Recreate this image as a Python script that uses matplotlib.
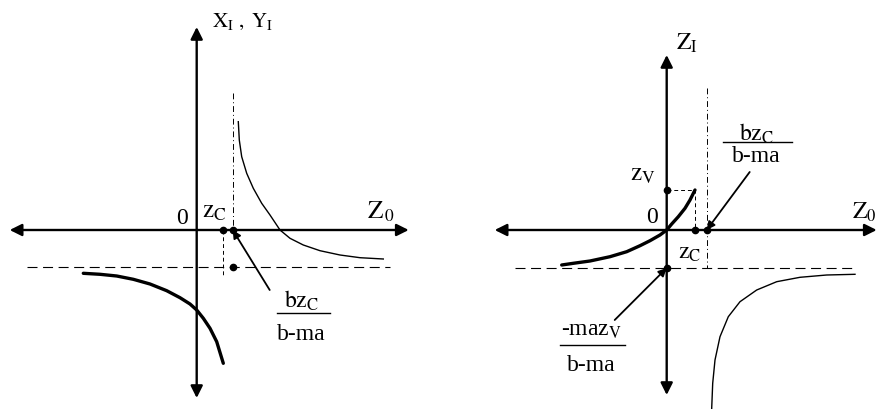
import matplotlib.pyplot as plt

plt.rcParams['font.family'] = ['Liberation Serif', 'DejaVu Serif']
plt.rcParams['mathtext.fontset'] = 'stix'

# ---- left panel: X_I, Y_I against Z_0 (origin at axis crossing) ----
L_zc = 26
L_pole = 36
L_asym = -37
L_upper_x = [41.6, 42.6, 45, 50, 56.6, 65, 73.3, 83.3, 93.3, 106.6, 123.3, 143.3, 163.3, 186.6]
L_upper_y = [108.3, 90, 73.3, 56.7, 41.7, 26.7, 15, 0, -8.3, -15, -20.7, -25, -27.7, -29]
L_lower_x = [-113.4, -96.7, -80, -63.4, -46.7, -30, -16.7, -6.7, 0, 6.6, 13.3, 20, 26.6]
L_lower_y = [-43.3, -44.3, -46, -49.3, -54, -60.7, -67.7, -74, -80, -88.3, -98.3, -111.7, -133.3]

# ---- right panel: Z_I against Z_0 ----
R_zc = 28
R_zv = 40
R_pole = 40
R_asym = -38
R_inner_x = [28.3, 23.3, 18.3, 11.6, 5, 0, -6.7, -16.7, -26.7, -40, -56.7, -76.7, -93.4, -105]
R_inner_y = [40, 30, 21.7, 13.3, 6, 0, -5, -10.7, -15.7, -21.7, -26.7, -31, -33.3, -35]
R_outer_x = [45, 46, 48.3, 53.3, 61.6, 73.3, 90, 110, 133.3, 160, 188.3]
R_outer_y = [-178.3, -153.3, -130, -106.7, -86.7, -71.7, -60, -51.7, -47.3, -45, -44.3]

fig = plt.figure(figsize=(8.78, 4.11), dpi=100)
axL = fig.add_axes([0, 0, 439 / 878, 1])
axR = fig.add_axes([439 / 878, 0, 439 / 878, 1])
axL.set_xlim(-196.7, 242.3)
axL.set_ylim(-181, 230)
axR.set_xlim(-227.7, 211.3)
axR.set_ylim(-181, 230)
for ax in (axL, axR):
    ax.axis('off')

axis_arrow = dict(arrowstyle='<|-|>', color='black', lw=1.7,
                  mutation_scale=18, shrinkA=0, shrinkB=0)
pointer = dict(arrowstyle='-|>', color='black', lw=1.3,
               mutation_scale=12, shrinkA=0, shrinkB=0)
fs = 17

# left panel
ax = axL
ax.annotate('', xy=(212, 0), xytext=(-187, 0), arrowprops=axis_arrow)
ax.annotate('', xy=(0, 203), xytext=(0, -168), arrowprops=axis_arrow)
ax.plot([-170, 193], [L_asym, L_asym], color='black', lw=0.8, ls=(0, (9, 5)))
ax.plot([L_pole, L_pole], [137, 0], color='black', lw=0.7, ls=(0, (6, 3, 1, 3)))
ax.plot([L_zc, L_zc], [0, -45], color='black', lw=0.7, ls=(0, (4, 3)))
ax.plot(L_upper_x, L_upper_y, color='black', lw=1.0)
ax.plot(L_lower_x, L_lower_y, color='black', lw=2.4, solid_capstyle='round')
ax.plot([L_zc, L_pole, L_pole], [0, 0, L_asym], 'o', color='black', ms=4.5)
ax.annotate('', xy=(L_pole, 0), xytext=(73, -60), arrowprops=pointer)
ax.text(46, 208, r'$\mathrm{X_I\ ,\ Y_I}$', fontsize=15, ha='center', va='center')
ax.text(-15, 12, '0', fontsize=fs, ha='center', va='center')
ax.text(18, 18, r'$\mathrm{z_C}$', fontsize=fs + 1, ha='center', va='center')
ax.text(184, 18, r'$\mathrm{Z}_{\,0}$', fontsize=fs + 1, ha='center', va='center')
ax.text(105, -71, r'$\mathrm{bz_C}$', fontsize=fs, ha='center', va='center')
ax.plot([80, 133], [-83, -83], color='black', lw=1.0)
ax.text(105, -104, 'b-ma', fontsize=fs, ha='center', va='center')

# right panel
ax = axR
ax.annotate('', xy=(210, 0), xytext=(-172, 0), arrowprops=axis_arrow)
ax.annotate('', xy=(0, 175), xytext=(0, -165), arrowprops=axis_arrow)
ax.plot([-152, 186], [R_asym, R_asym], color='black', lw=0.8, ls=(0, (9, 5)))
ax.plot([R_pole, R_pole], [142, R_asym], color='black', lw=0.7, ls=(0, (6, 3, 1, 3)))
ax.plot([0, R_zc, R_zc], [R_zv, R_zv, 0], color='black', lw=0.7, ls=(0, (4, 3)))
ax.plot(R_inner_x, R_inner_y, color='black', lw=2.4, solid_capstyle='round')
ax.plot(R_outer_x, R_outer_y, color='black', lw=1.0)
ax.plot([0, R_zc, R_pole, 0], [R_zv, 0, 0, R_asym], 'o', color='black', ms=4.5)
ax.annotate('', xy=(R_pole, 0), xytext=(83, 58), arrowprops=pointer)
ax.annotate('', xy=(0, R_asym), xytext=(-52, -90), arrowprops=pointer)
ax.text(20, 187, r'$\mathrm{Z_I}$', fontsize=fs, ha='center', va='center')
ax.text(198, 18, r'$\mathrm{Z_0}$', fontsize=fs, ha='center', va='center')
ax.text(-15, 13, '0', fontsize=fs, ha='center', va='center')
ax.text(-24, 55, r'$\mathrm{z_V}$', fontsize=fs + 1, ha='center', va='center')
ax.text(23, -23, r'$\mathrm{z_C}$', fontsize=fs, ha='center', va='center')
ax.text(90, 96, r'$\mathrm{bz_C}$', fontsize=fs, ha='center', va='center')
ax.plot([56, 125], [88, 88], color='black', lw=1.0)
ax.text(90, 73, 'b-ma', fontsize=fs, ha='center', va='center')
ax.text(-75, -100, r'-maz$_\mathrm{V}$', fontsize=fs, ha='center', va='center')
ax.plot([-107, -42], [-115, -115], color='black', lw=1.0)
ax.text(-75, -135, 'b-ma', fontsize=fs, ha='center', va='center')

fig.savefig('out.png', dpi=100)
plt.close(fig)
